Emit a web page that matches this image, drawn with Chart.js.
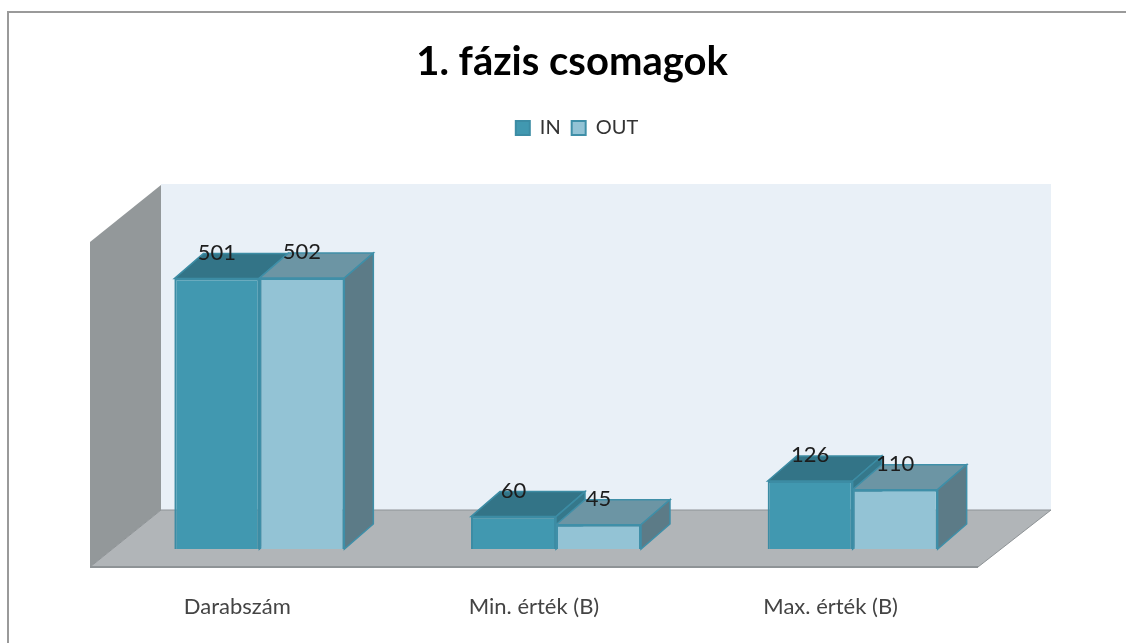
<!DOCTYPE html>
<html><head><meta charset="utf-8">
<style>html,body{margin:0;padding:0;background:#fff;overflow:hidden}
#w{position:relative;width:1126px;height:643px}canvas{display:block;filter:blur(0.5px)}</style>
<script src="https://cdn.jsdelivr.net/npm/chart.js@4"></script></head>
<body><div id="w"><canvas id="c" width="1126" height="643"></canvas></div>
<script>
const categories = ['Darabszám','Min. érték (B)','Max. érték (B)'];
const seriesNames = ['IN','OUT'];
const inValues = [501,60,126];
const outValues = [502,45,110];
const axisMax = 743;

const FONT = 'Lato, "Open Sans", sans-serif';
const DX = 29, DY = -25;
const faces = [
  {top:'#337487', side:'#35788B'},
  {top:'#6C95A4', side:'#5C7B87'}
];
function poly(ctx, pts, fill, stroke, lw){
  ctx.beginPath();
  pts.forEach((p,i)=> i?ctx.lineTo(p[0],p[1]):ctx.moveTo(p[0],p[1]));
  ctx.closePath();
  ctx.fillStyle = fill; ctx.fill();
  if(stroke){ctx.strokeStyle = stroke; ctx.lineWidth = lw||1; ctx.stroke();}
}
const scene = {
  id:'scene',
  afterLayout(chart){
    if(chart.legend){chart.legend.left += 5; chart.legend.right += 5;}
  },
  beforeDraw(chart){
    const ctx = chart.ctx; ctx.save();
    ctx.fillStyle='#fff'; ctx.fillRect(0,0,chart.width,chart.height);
    ctx.strokeStyle='#9a9a9a'; ctx.lineWidth=2;
    ctx.beginPath(); ctx.moveTo(8,643); ctx.lineTo(8,12); ctx.lineTo(1126,12); ctx.stroke();
    ctx.restore();
  },
  beforeDatasetsDraw(chart){
    const ctx = chart.ctx, a = chart.chartArea;
    const L=a.left, R=a.right, B=a.bottom;
    const backL=L+50, backR=R+50, backB=B-39, backT=B-365;
    const frontL=L-21, frontR=R-23, frontB=B+18;
    ctx.save();
    poly(ctx,[[backL,backT],[backR,backT],[backR,backB],[backL,backB]],'#E9F0F7');
    poly(ctx,[[frontL,B-307],[backL,backT+1],[backL,backB],[frontL,frontB]],'#93989A');
    poly(ctx,[[frontL,frontB],[backL,backB],[backR,backB],[frontR,frontB]],'#B1B5B8');
    ctx.strokeStyle='#8E9396'; ctx.lineWidth=1;
    ctx.beginPath(); ctx.moveTo(frontL,frontB); ctx.lineTo(backL,backB); ctx.lineTo(backR,backB); ctx.lineTo(frontR,frontB); ctx.stroke();
    ctx.lineWidth=2; ctx.beginPath(); ctx.moveTo(frontL,frontB); ctx.lineTo(frontR,frontB); ctx.stroke();
    chart.data.datasets.forEach((ds,di)=>{
      chart.getDatasetMeta(di).data.forEach(el=>{
        const l=el.x-el.width/2, r=el.x+el.width/2, t=el.y, b=el.base;
        const stroke=ds.borderColor;
        poly(ctx,[[l,t],[l+DX,t+DY],[r+DX,t+DY],[r,t]],faces[di].top,stroke,1.5);
        poly(ctx,[[r,t],[r+DX,t+DY],[r+DX,b+DY],[r,b]],faces[di].side,stroke,1.5);
      });
    });
    ctx.restore();
  },
  afterDatasetsDraw(chart){
    const ctx = chart.ctx; ctx.save();
    ctx.font='22px '+FONT; ctx.fillStyle='#1c1c1c'; ctx.textAlign='center'; ctx.textBaseline='middle';
    chart.data.datasets.forEach((ds,di)=>{
      chart.getDatasetMeta(di).data.forEach((el,i)=>{
        ctx.fillText(String(ds.data[i]), el.x, el.y-26);
      });
    });
    ctx.restore();
  }
};
new Chart(document.getElementById('c'),{
  type:'bar',
  data:{labels:categories,datasets:[
    {label:seriesNames[0],data:inValues,backgroundColor:'#4198B0',borderColor:'#3C8CA4',borderWidth:2,barPercentage:1,categoryPercentage:0.573},
    {label:seriesNames[1],data:outValues,backgroundColor:'#93C3D5',borderColor:'#3F8FA8',borderWidth:2,barPercentage:1,categoryPercentage:0.573}
  ]},
  options:{
    responsive:false,animation:false,
    layout:{padding:{left:18,right:0,top:0,bottom:0}},
    plugins:{
      title:{display:true,text:'1. fázis csomagok',color:'#000',font:{family:FONT,size:40,weight:'bold',lineHeight:1.2},padding:{top:38,bottom:21}},
      legend:{display:true,position:'top',labels:{font:{family:FONT,size:20},color:'#333',boxWidth:14,boxHeight:14,padding:11}},
      tooltip:{enabled:false}
    },
    scales:{
      x:{grid:{display:false},border:{display:false},
         ticks:{font:{family:FONT,size:22},color:'#444',padding:37,labelOffset:-22,maxRotation:0},
         afterFit(s){s.height=94;}},
      y:{min:0,max:axisMax,grid:{display:false},border:{display:false},ticks:{display:false},
         afterFit(s){s.width=93;}},
      yr:{position:'right',display:true,grid:{display:false},border:{display:false},ticks:{display:false},
         afterFit(s){s.width=125;}}
    }
  },
  plugins:[scene]
});
</script></body></html>
